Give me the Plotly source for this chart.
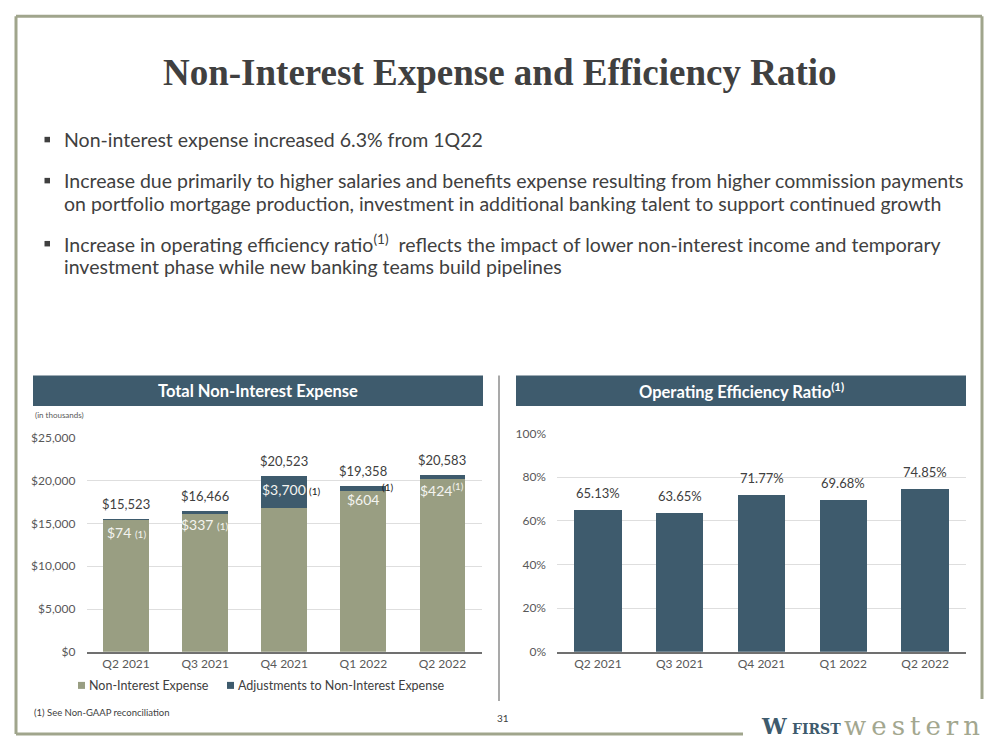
import plotly.graph_objects as go

# ---------------- data ----------------
quarters = ["Q2 2021", "Q3 2021", "Q4 2021", "Q1 2022", "Q2 2022"]
total_expense = [15523, 16466, 20523, 19358, 20583]
adjustments = [74, 337, 3700, 604, 424]
core_expense = [t - a for t, a in zip(total_expense, adjustments)]
efficiency_ratio = [65.13, 63.65, 71.77, 69.68, 74.85]

left_ticks = [0, 5000, 10000, 15000, 20000, 25000]
right_ticks = [0, 20, 40, 60, 80, 100]

title_text = "Non-Interest Expense and Efficiency Ratio"
bullet_lines = [
    ["Non-interest expense increased 6.3% from 1Q22"],
    ["Increase due primarily to higher salaries and benefits expense resulting from higher commission payments",
     "on portfolio mortgage production, investment in additional banking talent to support continued growth"],
    ["Increase in operating efficiency ratio<sup>(1)</sup>  reflects the impact of lower non-interest income and temporary",
     "investment phase while new banking teams build pipelines"],
]

# ---------------- style ----------------
W, H = 999, 750
OLIVE = "#999e82"
SLATE = "#3e5b6d"
TXT = "#404040"
TICK = "#595959"
FRAME = "#a0a58c"
GRID = "#dedede"
FONT = "Lato, 'Open Sans', sans-serif"

# vertical calibration of the rendered page (measured from previous renders)
Y_SCALE, Y_OFF = 0.979, 7.8


def px(x):
    return x / W


def py(y):
    return 1 - ((y - Y_OFF) / Y_SCALE) / H


fig = go.Figure()

fig.add_trace(go.Bar(x=quarters, y=core_expense, name="Non-Interest Expense",
                     marker=dict(color=OLIVE, line=dict(width=0)),
                     xaxis="x", yaxis="y", hoverinfo="skip"))
fig.add_trace(go.Bar(x=quarters, y=adjustments, name="Adjustments to Non-Interest Expense",
                     marker=dict(color=SLATE, line=dict(width=0)),
                     xaxis="x", yaxis="y", hoverinfo="skip"))
fig.add_trace(go.Bar(x=quarters, y=efficiency_ratio, name="Operating Efficiency Ratio",
                     marker=dict(color=SLATE, line=dict(width=0)),
                     xaxis="x2", yaxis="y2", hoverinfo="skip", showlegend=False))

ann = []
shapes = []

# ---- frame ----
for (x0, y0, x1, y1) in [(16, 16, 982, 16), (16, 16, 16, 733), (982, 16, 982, 698), (16, 733, 743, 733)]:
    shapes.append(dict(type="line", xref="paper", yref="paper", x0=px(x0), y0=py(y0), x1=px(x1), y1=py(y1),
                       line=dict(color=FRAME, width=3)))

# ---- title ----
ann.append(dict(text="<b>" + title_text + "</b>", x=0.5, y=py(72), xref="paper", yref="paper",
                xanchor="center", yanchor="middle", showarrow=False,
                font=dict(family="'Liberation Serif', serif", size=37, color=TXT)))

# ---- bullets ----
line_y = [[139], [180, 203], [243, 266]]
for lines, ys in zip(bullet_lines, line_y):
    shapes.append(dict(type="rect", xref="paper", yref="paper",
                       x0=px(44.5), x1=px(50), y0=py(ys[0] - 2.5), y1=py(ys[0] + 3),
                       fillcolor=TXT, line=dict(width=0)))
    for t, yy in zip(lines, ys):
        ann.append(dict(text=t, x=px(62), y=py(yy), xref="paper", yref="paper",
                        xanchor="left", yanchor="middle", showarrow=False,
                        font=dict(family=FONT, size=19.5, color=TXT)))

# ---- panel headers ----
for (x0, x1, label) in [(33, 483, "<b>Total Non-Interest Expense</b>"),
                        (516, 966, "<b>Operating Efficiency Ratio<sup>(1)</sup></b>")]:
    shapes.append(dict(type="rect", xref="paper", yref="paper", x0=px(x0), x1=px(x1),
                       y0=py(405.5), y1=py(375), fillcolor=SLATE, line=dict(width=0), layer="below"))
    ann.append(dict(text=label, x=px((x0 + x1) / 2), y=py(390.5), xref="paper", yref="paper",
                    xanchor="center", yanchor="middle", showarrow=False,
                    font=dict(family=FONT, size=16.5, color="white")))

# separator
shapes.append(dict(type="line", xref="paper", yref="paper", x0=px(499), x1=px(499), y0=py(375), y1=py(700),
                   line=dict(color="#8c8c8c", width=1.5)))

# (in thousands)
ann.append(dict(text="(in thousands)", x=px(33), y=py(414), xref="paper", yref="paper",
                xanchor="left", yanchor="middle", showarrow=False,
                font=dict(family=FONT, size=8, color=TICK)))

# ---- left chart labels ----
for q, tot in zip(quarters, total_expense):
    ann.append(dict(text=f"${tot:,}", x=q, y=tot, xref="x", yref="y", xanchor="center", yanchor="bottom",
                    yshift=5, showarrow=False, font=dict(family=FONT, size=13, color=TXT)))

small = "<span style='font-size:10px'>(1)</span>"
inner_text = [f"${adjustments[0]:,} " + small,
              f"${adjustments[1]:,} " + small,
              f"${adjustments[2]:,}",
              f"${adjustments[3]:,}",
              f"${adjustments[4]:,}<sup>(1)</sup>"]
for q, tot, t in zip(quarters, total_expense, inner_text):
    ann.append(dict(text=t, x=q, y=tot, xref="x", yref="y", xanchor="center", yanchor="top",
                    yshift=-3, showarrow=False, font=dict(family=FONT, size=14, color="#f4f4f0")))
# dark footnote markers
ann.append(dict(text="(1)", x=quarters[2], y=total_expense[2], xref="x", yref="y", xanchor="left",
                yanchor="top", xshift=23, yshift=-7, showarrow=False,
                font=dict(family=FONT, size=10, color="#1a1a1a")))
ann.append(dict(text="(1)", x=quarters[3], y=total_expense[3], xref="x", yref="y", xanchor="left",
                yanchor="middle", xshift=17, yshift=-1, showarrow=False,
                font=dict(family=FONT, size=10, color="#1a1a1a")))

# ---- custom legend ----
for (xl, color, label) in [(78, OLIVE, "Non-Interest Expense"), (227, SLATE, "Adjustments to Non-Interest Expense")]:
    shapes.append(dict(type="rect", xref="paper", yref="paper", x0=px(xl), x1=px(xl + 7),
                       y0=py(688), y1=py(681), fillcolor=color, line=dict(width=0)))
    ann.append(dict(text=label, x=px(xl + 8.5), y=py(684.5), xref="paper", yref="paper",
                    xanchor="left", yanchor="middle", showarrow=False,
                    font=dict(family=FONT, size=12.5, color=TXT)))

# ---- right chart labels ----
for q, v in zip(quarters, efficiency_ratio):
    ann.append(dict(text=f"{v:.2f}%", x=q, y=v, xref="x2", yref="y2", xanchor="center", yanchor="bottom",
                    yshift=7, showarrow=False, font=dict(family=FONT, size=13, color=TXT)))

# ---- footer ----
ann.append(dict(text="(1) See Non-GAAP reconciliation", x=px(32), y=py(712), xref="paper", yref="paper",
                xanchor="left", yanchor="middle", showarrow=False,
                font=dict(family=FONT, size=9.5, color=TXT)))
ann.append(dict(text="31", x=px(503), y=py(717), xref="paper", yref="paper",
                xanchor="center", yanchor="middle", showarrow=False,
                font=dict(family=FONT, size=10, color=TXT)))

# ---- logo ----
ann.append(dict(text="<b>W</b>", x=px(759), y=py(725), xref="paper", yref="paper",
                xanchor="left", yanchor="middle", showarrow=False,
                font=dict(family="'DejaVu Serif', serif", size=22, color=SLATE)))
ann.append(dict(text="<b>FIRST</b>", x=px(790), y=py(728), xref="paper", yref="paper",
                xanchor="left", yanchor="middle", showarrow=False,
                font=dict(family="'DejaVu Serif', serif", size=14, color=SLATE)))
ann.append(dict(text="<span style='letter-spacing:5px'>western</span>", x=px(842), y=py(725),
                xref="paper", yref="paper", xanchor="left", yanchor="middle", showarrow=False,
                font=dict(family="'DejaVu Serif', serif", size=26, color="#a3a78f")))

axis_common = dict(showgrid=False, zeroline=False, showline=True, linecolor="#707070", linewidth=1.5,
                   ticks="", tickfont=dict(family=FONT, size=12, color=TICK), fixedrange=True)
yaxis_common = dict(showgrid=True, gridcolor=GRID, gridwidth=1, zeroline=False, showline=False, ticks="",
                    tickfont=dict(family=FONT, size=12, color=TICK), fixedrange=True, ticklabelstandoff=10)

fig.update_layout(
    width=W, height=H, margin=dict(l=0, r=0, t=0, b=0),
    paper_bgcolor="white", plot_bgcolor="white",
    barmode="stack", bargap=0.42, showlegend=False,
    xaxis=dict(domain=[px(86.5), px(482)], categoryorder="array", categoryarray=quarters, **axis_common),
    yaxis=dict(domain=[py(651), py(437)], range=[0, 25000], tickvals=left_ticks,
               ticktext=[f"${v:,}" for v in left_ticks], **yaxis_common),
    xaxis2=dict(domain=[px(557), px(966)], anchor="y2", categoryorder="array", categoryarray=quarters,
                **axis_common),
    yaxis2=dict(domain=[py(651), py(433)], range=[0, 100], anchor="x2", tickvals=right_ticks,
                ticktext=[f"{v}%" for v in right_ticks], **yaxis_common),
    annotations=ann, shapes=shapes,
)

fig.write_html("out.html", config={"displayModeBar": False},
               post_script="document.body.style.margin='0px';document.documentElement.style.overflow='hidden';")
